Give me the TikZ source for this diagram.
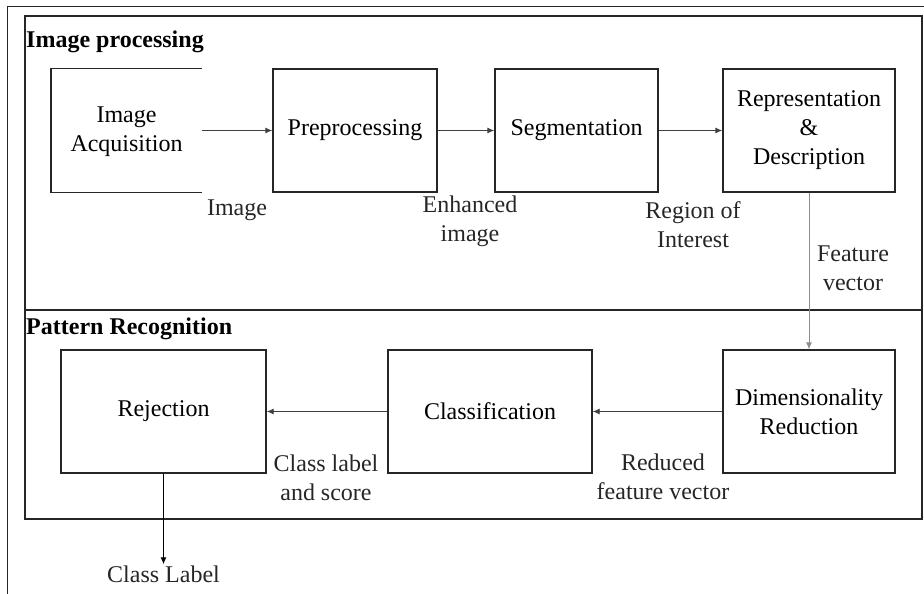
\documentclass[tikz,border=0pt]{standalone}
\usepackage{fontspec}
\setmainfont{Liberation Serif}
\usetikzlibrary{arrows.meta}
\begin{document}
\begin{tikzpicture}[x=1pt,y=-1pt,
  every node/.style={font=\fontsize{24}{29}\selectfont, inner sep=1pt, align=center},
  blk/.style={draw=black!85, line width=1.4pt, minimum height=123pt},
  frame/.style={draw=black!85, line width=1.4pt},
  conn/.style={draw=black!75, line width=0.9pt, -{Latex[length=7pt,width=6pt]}},
  lbl/.style={text=black!85},
  title/.style={font=\fontsize{24}{29}\selectfont\bfseries, anchor=west}]
\useasboundingbox (0,0) rectangle (924,594);
% outer frame
\draw[black!85, line width=1pt] (7,594) -- (7,7) -- (924,7);
% section frames
\draw[frame] (25,16) rectangle (922,310);
\draw[frame] (25,310) rectangle (922,519);
\node[title] (t1) at (25,42) {Image processing};
\node[title] (t2) at (25,329) {Pattern Recognition};
% top row
\node[minimum width=151pt, minimum height=123pt, text depth=2pt] (ia) at (126.5,130.5) {Image\\Acquisition};
\draw[black!85, line width=1.4pt] (ia.north east) -- (ia.north west) -- (ia.south west) -- (ia.south east);
\node[blk, minimum width=164pt] (pre) at (355,130.5) {Preprocessing};
\node[blk, minimum width=163pt] (seg) at (576.5,130.5) {Segmentation};
\node[blk, minimum width=172pt] (rep) at (809,130.5) {Representation\\\&\\Description};
% bottom row
\node[blk, minimum width=205pt] (rej) at (163.5,411.5) {Rejection};
\node[blk, minimum width=204pt] (cls) at (490,411.5) {Classification};
\node[blk, minimum width=172pt] (dim) at (809,411.5) {Dimensionality\\Reduction};
% connectors
\draw[conn] (ia.east) -- (pre.west);
\draw[conn] (pre.east) -- (seg.west);
\draw[conn] (seg.east) -- (rep.west);
\draw[conn, draw=black!45] (rep.south) -- (dim.north);
\draw[conn] (dim.west) -- (cls.east);
\draw[conn] (cls.west) -- (rej.east);
\node[lbl] (cl) at (163.5,574) {Class Label};
\draw[conn, draw=black, line width=1.2pt] (rej.south) -- (cl.north);
% labels
\node[lbl] (l1) at (237,210) {Image};
\node[lbl] (l2) at (470,221) {Enhanced\\image};
\node[lbl] (l3) at (693,225) {Region of\\Interest};
\node[lbl] (l4) at (853,268) {Feature\\vector};
\node[lbl] (l5) at (326,478) {Class label\\and score};
\node[lbl] (l6) at (663,477) {Reduced\\feature vector};
\end{tikzpicture}
\end{document}
